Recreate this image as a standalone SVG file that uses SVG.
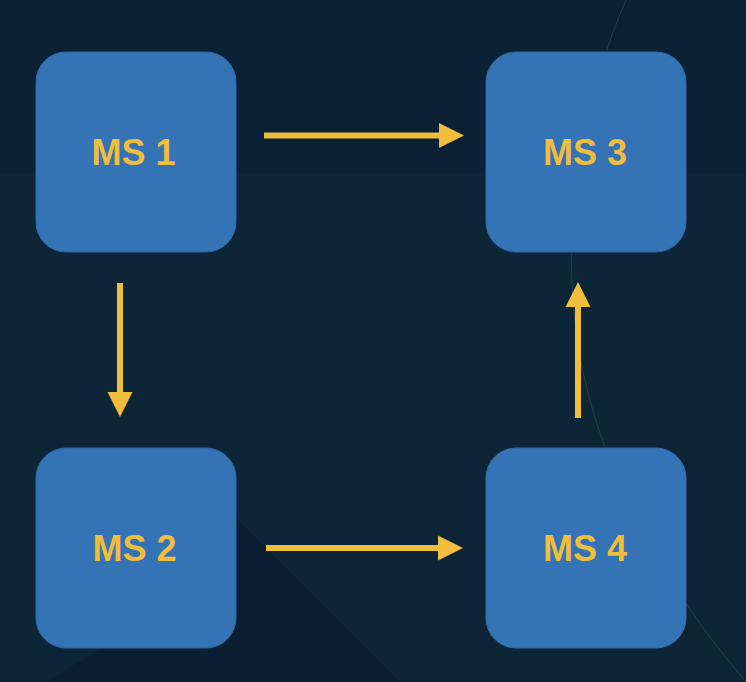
<svg xmlns="http://www.w3.org/2000/svg" width="746" height="682" viewBox="0 0 746 682">
  <defs>
    <style>
      .node rect { fill: #3473b5; stroke: #2f69a6; stroke-width: 1; }
      .node text { fill: #f0bd3c; font-family: "Liberation Sans", Arial, sans-serif; font-weight: bold; font-size: 36px; text-anchor: middle; }
      .edge line { stroke: #f0bd3c; stroke-width: 6; }
      .head { fill: #f0bd3c; }
    </style>
  </defs>
  <g id="background">
    <rect x="0" y="0" width="746" height="682" fill="#0c2637"/>
    <rect x="0" y="0" width="746" height="173" fill="#0b2135"/>
    <polygon points="43,684 120,637 200,482 403,685" fill="#0b1f32"/>
    <path d="M627,-2 C590,80 565,200 573,300 C580,420 640,560 748,684" fill="none" stroke="#2a4a4e" stroke-width="1" opacity="0.75"/>
  </g>
  <g id="connectors" class="edge">
    <g id="e-ms1-ms3">
      <line x1="264" y1="135.5" x2="441" y2="135.5"/>
      <polygon class="head" points="439,123 464,135.5 439,148"/>
    </g>
    <g id="e-ms1-ms2">
      <line x1="120" y1="283" x2="120" y2="394"/>
      <polygon class="head" points="107.5,392 132.5,392 120,417"/>
    </g>
    <g id="e-ms2-ms4">
      <line x1="266" y1="548" x2="440" y2="548"/>
      <polygon class="head" points="438,535.5 463,548 438,560.5"/>
    </g>
    <g id="e-ms4-ms3">
      <line x1="578" y1="418" x2="578" y2="305"/>
      <polygon class="head" points="565.5,307 590.5,307 578,282"/>
    </g>
  </g>
  <g id="ms1" class="node">
    <rect x="36" y="52" width="200" height="200" rx="30" ry="30"/>
    <text x="133.5" y="165">MS 1</text>
  </g>
  <g id="ms3" class="node">
    <rect x="486" y="52" width="200" height="200" rx="30" ry="30"/>
    <text x="585" y="165">MS 3</text>
  </g>
  <g id="ms2" class="node">
    <rect x="36" y="448" width="200" height="200" rx="30" ry="30"/>
    <text x="134.5" y="561">MS 2</text>
  </g>
  <g id="ms4" class="node">
    <rect x="486" y="448" width="200" height="200" rx="30" ry="30"/>
    <text x="585" y="561">MS 4</text>
  </g>
</svg>
